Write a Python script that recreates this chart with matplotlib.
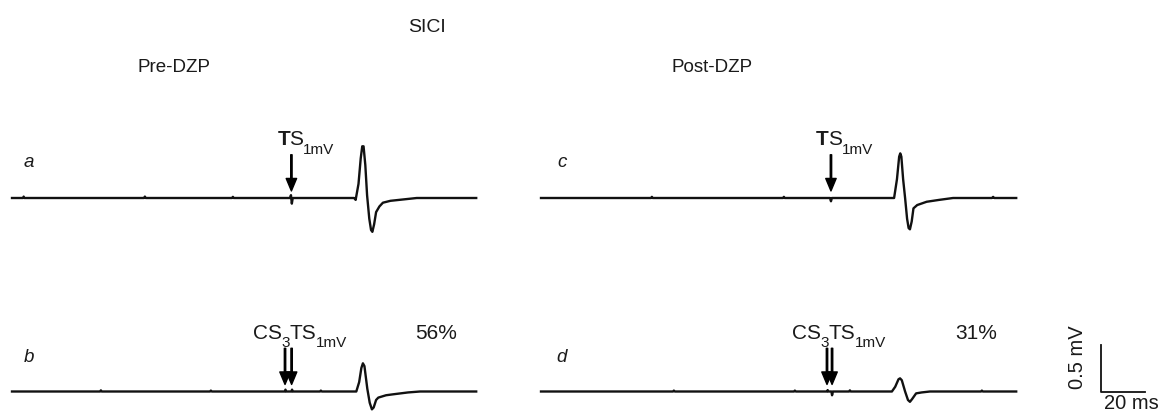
import matplotlib
matplotlib.use("Agg")
import matplotlib.pyplot as plt

W, H = 1164, 412
plt.rcParams['font.family'] = ['Liberation Sans', 'DejaVu Sans']

# EMG traces, time in ms, amplitude in mV
a_t = [0, 5, 5.3, 5.6, 60, 60.4, 60.8, 100, 100.4, 100.8, 126.4, 126.8, 127.2, 127.6,
       155.5, 156.2, 157.5, 158.5, 159.2, 159.8, 160.6, 161.4, 162.4, 163.2, 163.8,
       164.6, 165.5, 167, 168.6, 172, 178, 184, 211]
a_v = [0, 0, 0.015, 0, 0, 0.015, 0, 0, 0.012, 0, 0, 0.03, -0.06, 0,
       0, -0.02, 0.15, 0.42, 0.55, 0.55, 0.35, 0.03, -0.22, -0.34, -0.36,
       -0.28, -0.15, -0.09, -0.05, -0.03, -0.015, 0, 0]

b_t = [0, 40, 40.4, 40.8, 90, 90.4, 90.8, 124.0, 124.3, 124.6, 127.0, 127.3, 127.6,
       140, 140.4, 140.8, 156.5, 157.8, 158.8, 159.5, 160.2, 161.5, 162.6, 163.6,
       164.4, 165.5, 166.5, 170, 173.2, 180, 185.5, 211]
b_v = [0, 0, 0.012, 0, 0, 0.01, 0, 0, 0.02, 0, 0, 0.02, 0,
       0, 0.01, 0, 0, 0.1, 0.25, 0.3, 0.27, 0.03, -0.12, -0.19,
       -0.17, -0.09, -0.065, -0.04, -0.03, -0.01, 0, 0]

c_t = [0, 50, 50.4, 50.8, 110, 110.4, 110.8, 131.4, 131.8, 132.2, 160.5, 161.8,
       162.8, 163.3, 163.8, 164.6, 165.5, 166.4, 167.1, 167.7, 168.5, 169.3, 171,
       175.3, 181, 187.3, 205, 205.5, 206, 216]
c_v = [0, 0, 0.012, 0, 0, 0.012, 0, 0, -0.035, 0, 0, 0.2,
       0.44, 0.475, 0.44, 0.2, 0.0, -0.22, -0.32, -0.333, -0.25, -0.11, -0.075,
       -0.04, -0.02, 0, 0, 0.012, 0, 0]

d_t = [0, 60, 60.4, 60.8, 115, 115.4, 115.8, 130.0, 130.3, 130.6, 132.0, 132.3,
       132.7, 140, 140.4, 140.8, 159.5, 161, 162.5, 163.2, 164, 165.5, 166.8,
       167.7, 168.7, 170.5, 173, 176.8, 200, 200.4, 200.8, 216]
d_v = [0, 0, 0.01, 0, 0, 0.01, 0, 0, 0.015, 0, 0, -0.04,
       0, 0, 0.012, 0, 0, 0.05, 0.13, 0.14, 0.12, 0.0, -0.09,
       -0.11, -0.08, -0.02, -0.01, 0, 0, 0.01, 0, 0]

# stimulus times (ms)
a_stim = [127.0]
b_stim = [124.1, 127.1]
c_stim = [131.8]
d_stim = [130.0, 132.3]

panel_letters = ['a', 'b', 'c', 'd']
# label pieces: (text, is_subscript, bold)
ts_label = [('T', False, True), ('S', False, False), ('1mV', True, False)]
csts_label = [('CS', False, False), ('3', True, False), ('TS', False, False),
              ('1mV', True, False)]
stim_labels = [ts_label, csts_label, ts_label, csts_label]
label_offsets = [-6.4, -14.6, -6.9, -15.9]
percent = [None, '56%', None, '31%']
percent_x = [None, 192.8, None, 197.8]

PX_MS = 2.2     # px per ms
PX_MV = 94.0    # px per mV
YLO, YHI = -0.55, 0.75
TMAX = 216
FS_LAB = 15
FS_SUB = 11

fig = plt.figure(figsize=(W / 100, H / 100), dpi=100)
renderer = fig.canvas.get_renderer()


def add_panel(left_px, base_px):
    bottom_px = base_px - YLO * PX_MV
    ax = fig.add_axes([left_px / W, (H - bottom_px) / H,
                       TMAX * PX_MS / W, (YHI - YLO) * PX_MV / H])
    ax.set_xlim(0, TMAX)
    ax.set_ylim(YLO, YHI)
    ax.axis('off')
    return ax


def rich_label(ax, x, y, pieces):
    off = 0.0
    for s, sub, bold in pieces:
        txt = ax.annotate(s, xy=(x, y), xytext=(off, -6 if sub else 0),
                          textcoords='offset points',
                          fontsize=FS_SUB if sub else FS_LAB,
                          fontweight='bold' if bold else 'normal',
                          ha='left', va='baseline', color='#1a1a1a')
        off += txt.get_window_extent(renderer).width * 72 / fig.dpi - 0.4


axes = [add_panel(12, 198), add_panel(12, 391.5),
        add_panel(541, 198), add_panel(541, 391.5)]
traces = [(a_t, a_v), (b_t, b_v), (c_t, c_v), (d_t, d_v)]
stims = [a_stim, b_stim, c_stim, d_stim]

for i, ax in enumerate(axes):
    t, v = traces[i]
    ax.plot(t, v, color='#111111', lw=1.7, solid_joinstyle='round', clip_on=False)
    for s in stims[i]:
        ax.annotate('', xy=(s, 0.075), xytext=(s, 0.46),
                    arrowprops=dict(facecolor='black', edgecolor='black',
                                    width=1.0, headwidth=7.5, headlength=9, shrink=0))
    rich_label(ax, stims[i][0] + label_offsets[i], 0.56, stim_labels[i])
    if percent[i]:
        ax.text(percent_x[i], 0.56, percent[i], fontsize=FS_LAB,
                ha='center', va='baseline', color='#1a1a1a')

# panel letters
for (x, y), s in zip([(29, 163), (29, 357), (562, 163), (562, 357)], panel_letters):
    fig.text(x / W, 1 - y / H, s, fontsize=13.5, style='italic',
             ha='center', va='center', color='#1a1a1a')

fig.text(427 / W, 1 - 27 / H, 'SICI', fontsize=14, ha='center', va='center',
         color='#1a1a1a')
fig.text(174 / W, 1 - 68 / H, 'Pre-DZP', fontsize=13.5, ha='center', va='center',
         color='#1a1a1a')
fig.text(712 / W, 1 - 68 / H, 'Post-DZP', fontsize=13.5, ha='center', va='center',
         color='#1a1a1a')

# scale bar: 20 ms, 0.5 mV
ax = axes[3]
x0 = 254.4
ax.plot([x0, x0, x0 + 20], [0.5, 0, 0], color='#111111', lw=1.3, clip_on=False)
ax.text(x0 - 10.5, 0.37, '0.5 mV', rotation=90, fontsize=14.5,
        ha='center', va='center', color='#1a1a1a')
ax.text(x0 + 14, -0.03, '20 ms', fontsize=14.5, ha='center', va='top',
        color='#1a1a1a')

fig.savefig('out.png', dpi=100)
